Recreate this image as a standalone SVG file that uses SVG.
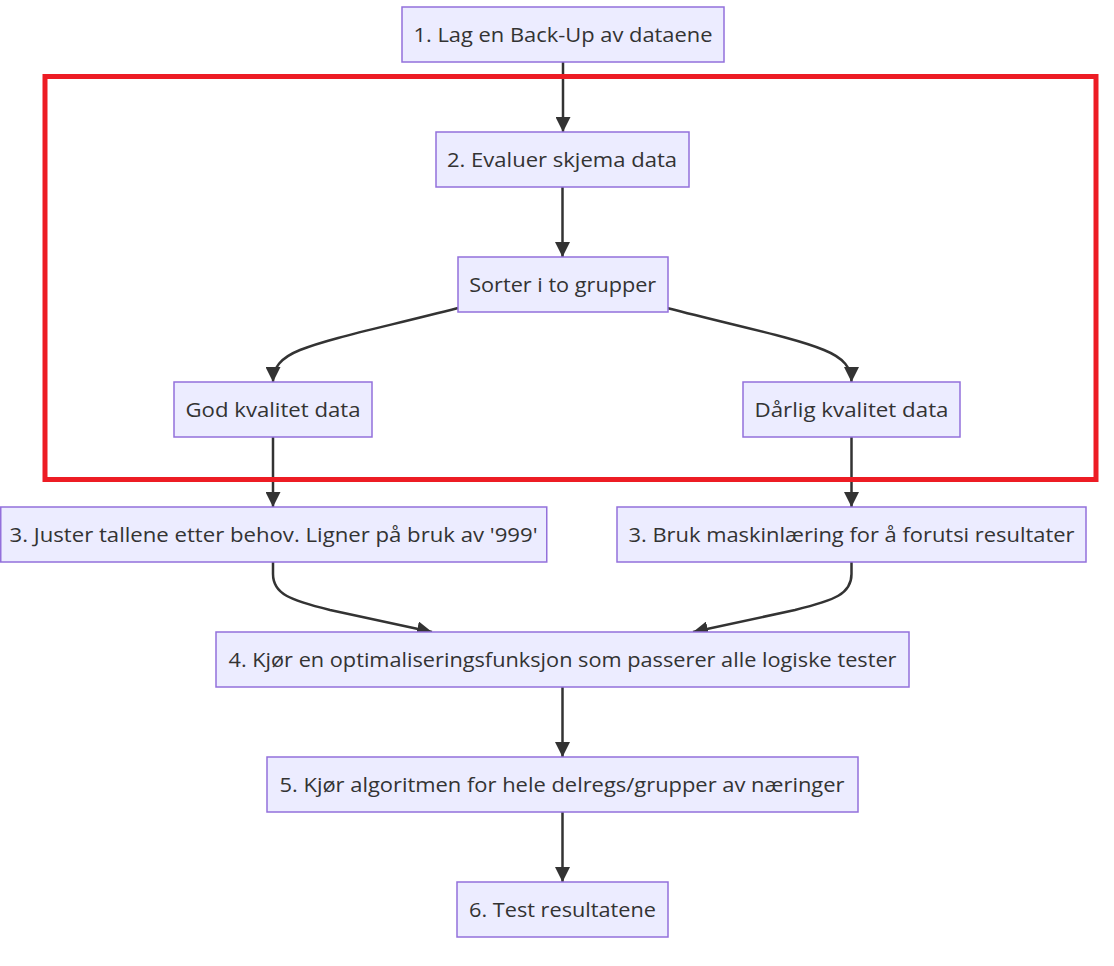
<svg xmlns="http://www.w3.org/2000/svg" width="1114" height="966" viewBox="0 0 1114 966">
<style>
.node rect{fill:#ECECFF;stroke:#9370DB;stroke-width:1.5}
.node text{fill:#333333;font-family:"Trebuchet MS","Open Sans","DejaVu Sans",sans-serif;font-size:20px;text-anchor:middle}
.edge{fill:none;stroke:#333333;stroke-width:2.5;marker-end:url(#arrow)}
</style>
<defs>
<marker id="arrow" viewBox="0 0 10 10" refX="10" refY="5" markerUnits="userSpaceOnUse" markerWidth="15" markerHeight="15" orient="auto">
<path d="M0,0 L10,5 L0,10 z" fill="#333333"/>
</marker>
</defs>
<rect width="1114" height="966" fill="#ffffff"/>
<g id="connectors">
<path class="edge" d="M563,62 L563,132"/>
<path class="edge" d="M562.5,187 L562.5,257"/>
<path class="edge" d="M458,308 C380,328 330,338 300,350 C280,358 273,368 273,382"/>
<path class="edge" d="M667,308 C745,328 795,338 824,350 C844,358 851.5,368 851.5,382"/>
<path class="edge" d="M273,437 L273,507"/>
<path class="edge" d="M851.5,437 L851.5,507"/>
<path class="edge" d="M273,562 L273,574 C273,594 290,600 330,610 L432,632"/>
<path class="edge" d="M851.5,562 L851.5,574 C851.5,594 835,600 795,610 L693,632"/>
<path class="edge" d="M562.5,687 L562.5,757"/>
<path class="edge" d="M562.5,812 L562.5,882"/>
</g>
<g id="n1" class="node"><rect x="402" y="7" width="322" height="55"/><text x="563" y="41.5" textLength="299" lengthAdjust="spacingAndGlyphs">1. Lag en Back-Up av dataene</text></g>
<g id="n2" class="node"><rect x="436" y="132" width="253" height="55"/><text x="562" y="166.5" textLength="230" lengthAdjust="spacingAndGlyphs">2. Evaluer skjema data</text></g>
<g id="sorter" class="node"><rect x="458" y="257" width="210" height="55"/><text x="562.7" y="291.5" textLength="187" lengthAdjust="spacingAndGlyphs">Sorter i to grupper</text></g>
<g id="god" class="node"><rect x="174" y="382" width="198" height="55"/><text x="273" y="416.5" textLength="175" lengthAdjust="spacingAndGlyphs">God kvalitet data</text></g>
<g id="darlig" class="node"><rect x="743" y="382" width="217" height="55"/><text x="851.5" y="416.5" textLength="194" lengthAdjust="spacingAndGlyphs">Dårlig kvalitet data</text></g>
<g id="n3a" class="node"><rect x="0.75" y="507" width="546" height="55"/><text x="273.5" y="541.5" textLength="528" lengthAdjust="spacingAndGlyphs">3. Juster tallene etter behov. Ligner på bruk av '999'</text></g>
<g id="n3b" class="node"><rect x="617" y="507" width="469" height="55"/><text x="851.5" y="541.5" textLength="446" lengthAdjust="spacingAndGlyphs">3. Bruk maskinlæring for å forutsi resultater</text></g>
<g id="n4" class="node"><rect x="216" y="632" width="693" height="55"/><text x="562.5" y="666.5" textLength="668" lengthAdjust="spacingAndGlyphs">4. Kjør en optimaliseringsfunksjon som passerer alle logiske tester</text></g>
<g id="n5" class="node"><rect x="267" y="757" width="591" height="55"/><text x="562" y="791.5" textLength="565" lengthAdjust="spacingAndGlyphs">5. Kjør algoritmen for hele delregs/grupper av næringer</text></g>
<g id="n6" class="node"><rect x="457" y="882" width="211" height="55"/><text x="562.5" y="916.5" textLength="187" lengthAdjust="spacingAndGlyphs">6. Test resultatene</text></g>
<rect id="highlight" x="45" y="76.5" width="1051" height="403" fill="none" stroke="#ED1C24" stroke-width="5"/>
</svg>
